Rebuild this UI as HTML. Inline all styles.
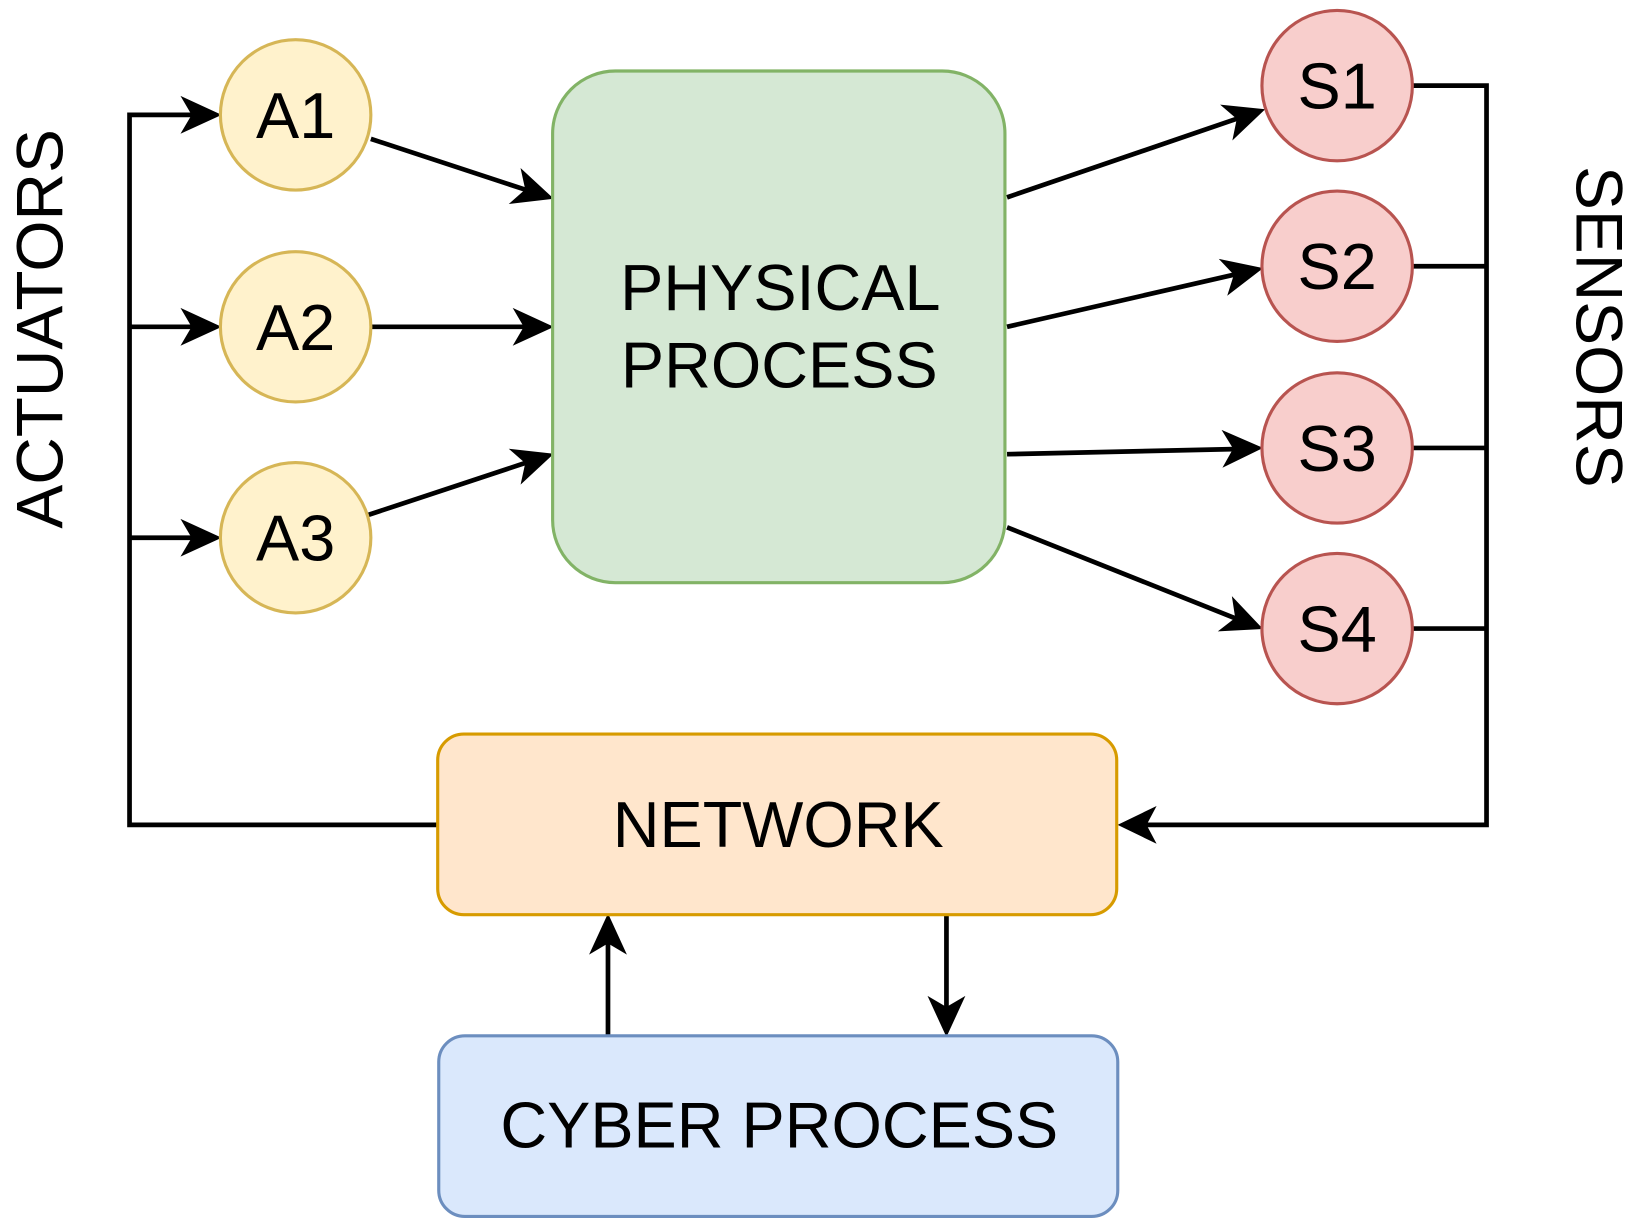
<!DOCTYPE html>
<html><head><meta charset="utf-8"><style>
html,body{margin:0;padding:0;background:#fff;}
svg{display:block;}
text{font-family:"Liberation Sans",Arial,sans-serif;fill:#000;}
</style></head><body>
<svg width="1638" height="1230" viewBox="0 0 1568 1178" preserveAspectRatio="none" xmlns="http://www.w3.org/2000/svg">
<g fill="none" stroke="#000" stroke-width="4.5">
<polyline points="419,790 124,790 124,110 190,110"/>
<line x1="124" y1="313" x2="190" y2="313"/>
<line x1="124" y1="515" x2="190" y2="515"/>
<polyline points="1352,82 1423,82 1423,790 1095,790"/>
<line x1="1352" y1="255" x2="1423" y2="255"/>
<line x1="1352" y1="429" x2="1423" y2="429"/>
<line x1="1352" y1="602" x2="1423" y2="602"/>
<line x1="355" y1="133" x2="507" y2="183"/>
<line x1="355" y1="313" x2="507" y2="313"/>
<line x1="353" y1="493" x2="507" y2="442"/>
<line x1="964" y1="189" x2="1189" y2="112"/>
<line x1="964" y1="313" x2="1186" y2="262"/>
<line x1="964" y1="435" x2="1186" y2="430"/>
<line x1="964" y1="505" x2="1187" y2="594"/>
<line x1="906" y1="876" x2="906" y2="970"/>
<line x1="582" y1="992" x2="582" y2="898"/>
</g>
<g fill="#000" stroke="#000" stroke-width="1">
<path d="M211,110 L174,93 L184,110 L174,127 Z"/>
<path d="M211,313 L174,296 L184,313 L174,330 Z"/>
<path d="M211,515 L174,498 L184,515 L174,532 Z"/>
<g transform="translate(529,190) rotate(18.1)"><path d="M0,0 L-37,-17 L-27,0 L-37,17 Z"/></g>
<path d="M529,313 L492,296 L502,313 L492,330 Z"/>
<g transform="translate(529,435) rotate(-18.2)"><path d="M0,0 L-37,-17 L-27,0 L-37,17 Z"/></g>
<g transform="translate(1210,105) rotate(-18.9)"><path d="M0,0 L-37,-17 L-27,0 L-37,17 Z"/></g>
<g transform="translate(1208,257) rotate(-12.9)"><path d="M0,0 L-37,-17 L-27,0 L-37,17 Z"/></g>
<g transform="translate(1208,429) rotate(-1.3)"><path d="M0,0 L-37,-17 L-27,0 L-37,17 Z"/></g>
<g transform="translate(1208,602) rotate(21.8)"><path d="M0,0 L-37,-17 L-27,0 L-37,17 Z"/></g>
<path d="M1071,790 L1106,773 L1097,790 L1106,807 Z"/>
<path d="M906,992 L889,955 L906,965 L923,955 Z"/>
<path d="M582,876 L565,913 L582,903 L599,913 Z"/>
</g>
<rect x="529" y="68" width="433" height="490" rx="60" fill="#d5e8d4" stroke="#82b366" stroke-width="3"/>
<rect x="419" y="703" width="650" height="173" rx="25" fill="#ffe6cc" stroke="#d79b00" stroke-width="3"/>
<rect x="420" y="992" width="650" height="173" rx="25" fill="#dae8fc" stroke="#6c8ebf" stroke-width="3"/>
<g fill="#fff2cc" stroke="#d6b656" stroke-width="3">
<circle cx="283" cy="110" r="72"/>
<circle cx="283" cy="313" r="72"/>
<circle cx="283" cy="515" r="72"/>
</g>
<g fill="#f8cecc" stroke="#b85450" stroke-width="3">
<circle cx="1280" cy="82" r="72"/>
<circle cx="1280" cy="255" r="72"/>
<circle cx="1280" cy="429" r="72"/>
<circle cx="1280" cy="602" r="72"/>
</g>
<g font-size="62" text-anchor="middle">
<text x="283" y="132">A1</text>
<text x="283" y="335">A2</text>
<text x="283" y="537">A3</text>
<text x="1280" y="104">S1</text>
<text x="1280" y="277">S2</text>
<text x="1280" y="451">S3</text>
<text x="1280" y="624">S4</text>
<text x="747" y="297">PHYSICAL</text>
<text x="746" y="371">PROCESS</text>
<text x="745" y="811">NETWORK</text>
<text x="746" y="1099">CYBER PROCESS</text>
<text transform="translate(60,315) rotate(-90)" font-size="63">ACTUATORS</text>
<text transform="translate(1509,313) rotate(90)" font-size="63">SENSORS</text>
</g>
</svg>
</body></html>
